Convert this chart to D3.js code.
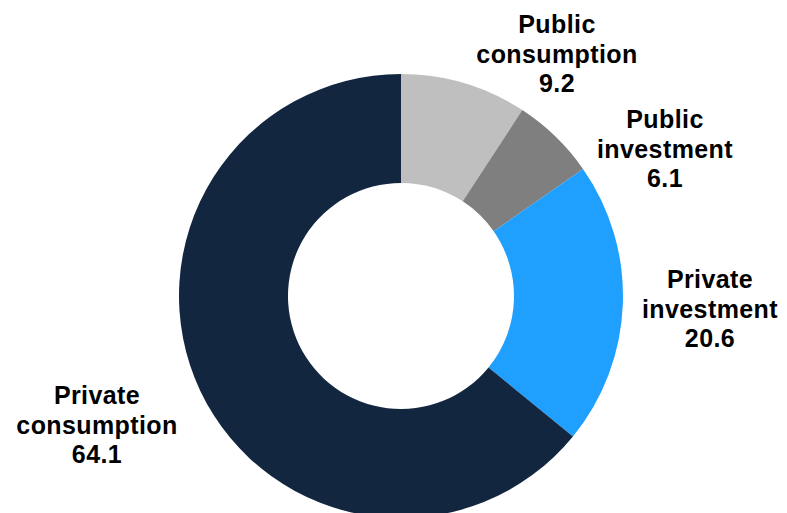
<!DOCTYPE html>
<html>
<head>
<meta charset="utf-8">
<script src="https://cdn.jsdelivr.net/npm/d3@7"></script>
<style>
  html, body { margin: 0; padding: 0; background: #fff; }
  svg { display: block; }
</style>
</head>
<body>
<svg id="chart" width="787" height="513"></svg>
<script>
// GDP expenditure shares (%), clockwise from 12 o'clock
const categories = ["Public consumption", "Public investment", "Private investment", "Private consumption"];
const labelLines = [["Public", "consumption"], ["Public", "investment"], ["Private", "investment"], ["Private", "consumption"]];
const shares = [9.2, 6.1, 20.6, 64.1];
const colors = ["#BFBFBF", "#7F7F7F", "#1FA0FF", "#12263F"];

// label anchor (centre x, first baseline y) for each slice
const labelAnchors = [[557, 33], [665, 128], [710, 288], [97, 404]];

const svg = d3.select("#chart");
const cx = 401, cy = 296, rOuter = 222, rInner = 113;

const pie = d3.pie().sort(null).value(d => d.value);
const arc = d3.arc().innerRadius(rInner).outerRadius(rOuter);

const data = categories.map((c, i) => ({ name: c, value: shares[i], color: colors[i], lines: labelLines[i], anchor: labelAnchors[i] }));

const g = svg.append("g").attr("transform", `translate(${cx},${cy})`);
g.selectAll("path")
  .data(pie(data))
  .join("path")
  .attr("d", arc)
  .attr("fill", d => d.data.color);

const fmt = d3.format(".1f");
const labels = svg.selectAll("text.lbl")
  .data(data)
  .join("text")
  .attr("class", "lbl")
  .attr("text-anchor", "middle")
  .attr("font-family", "'Liberation Sans', Arial, sans-serif")
  .attr("font-weight", "bold")
  .attr("font-size", 25)
  .attr("letter-spacing", 0.4)
  .attr("fill", "#000");

labels.each(function(d) {
  const t = d3.select(this);
  const rows = [...d.lines, fmt(d.value)];
  rows.forEach((r, j) => {
    t.append("tspan")
      .attr("x", d.anchor[0])
      .attr("y", d.anchor[1] + j * 29.5)
      .text(r);
  });
});
</script>
</body>
</html>
